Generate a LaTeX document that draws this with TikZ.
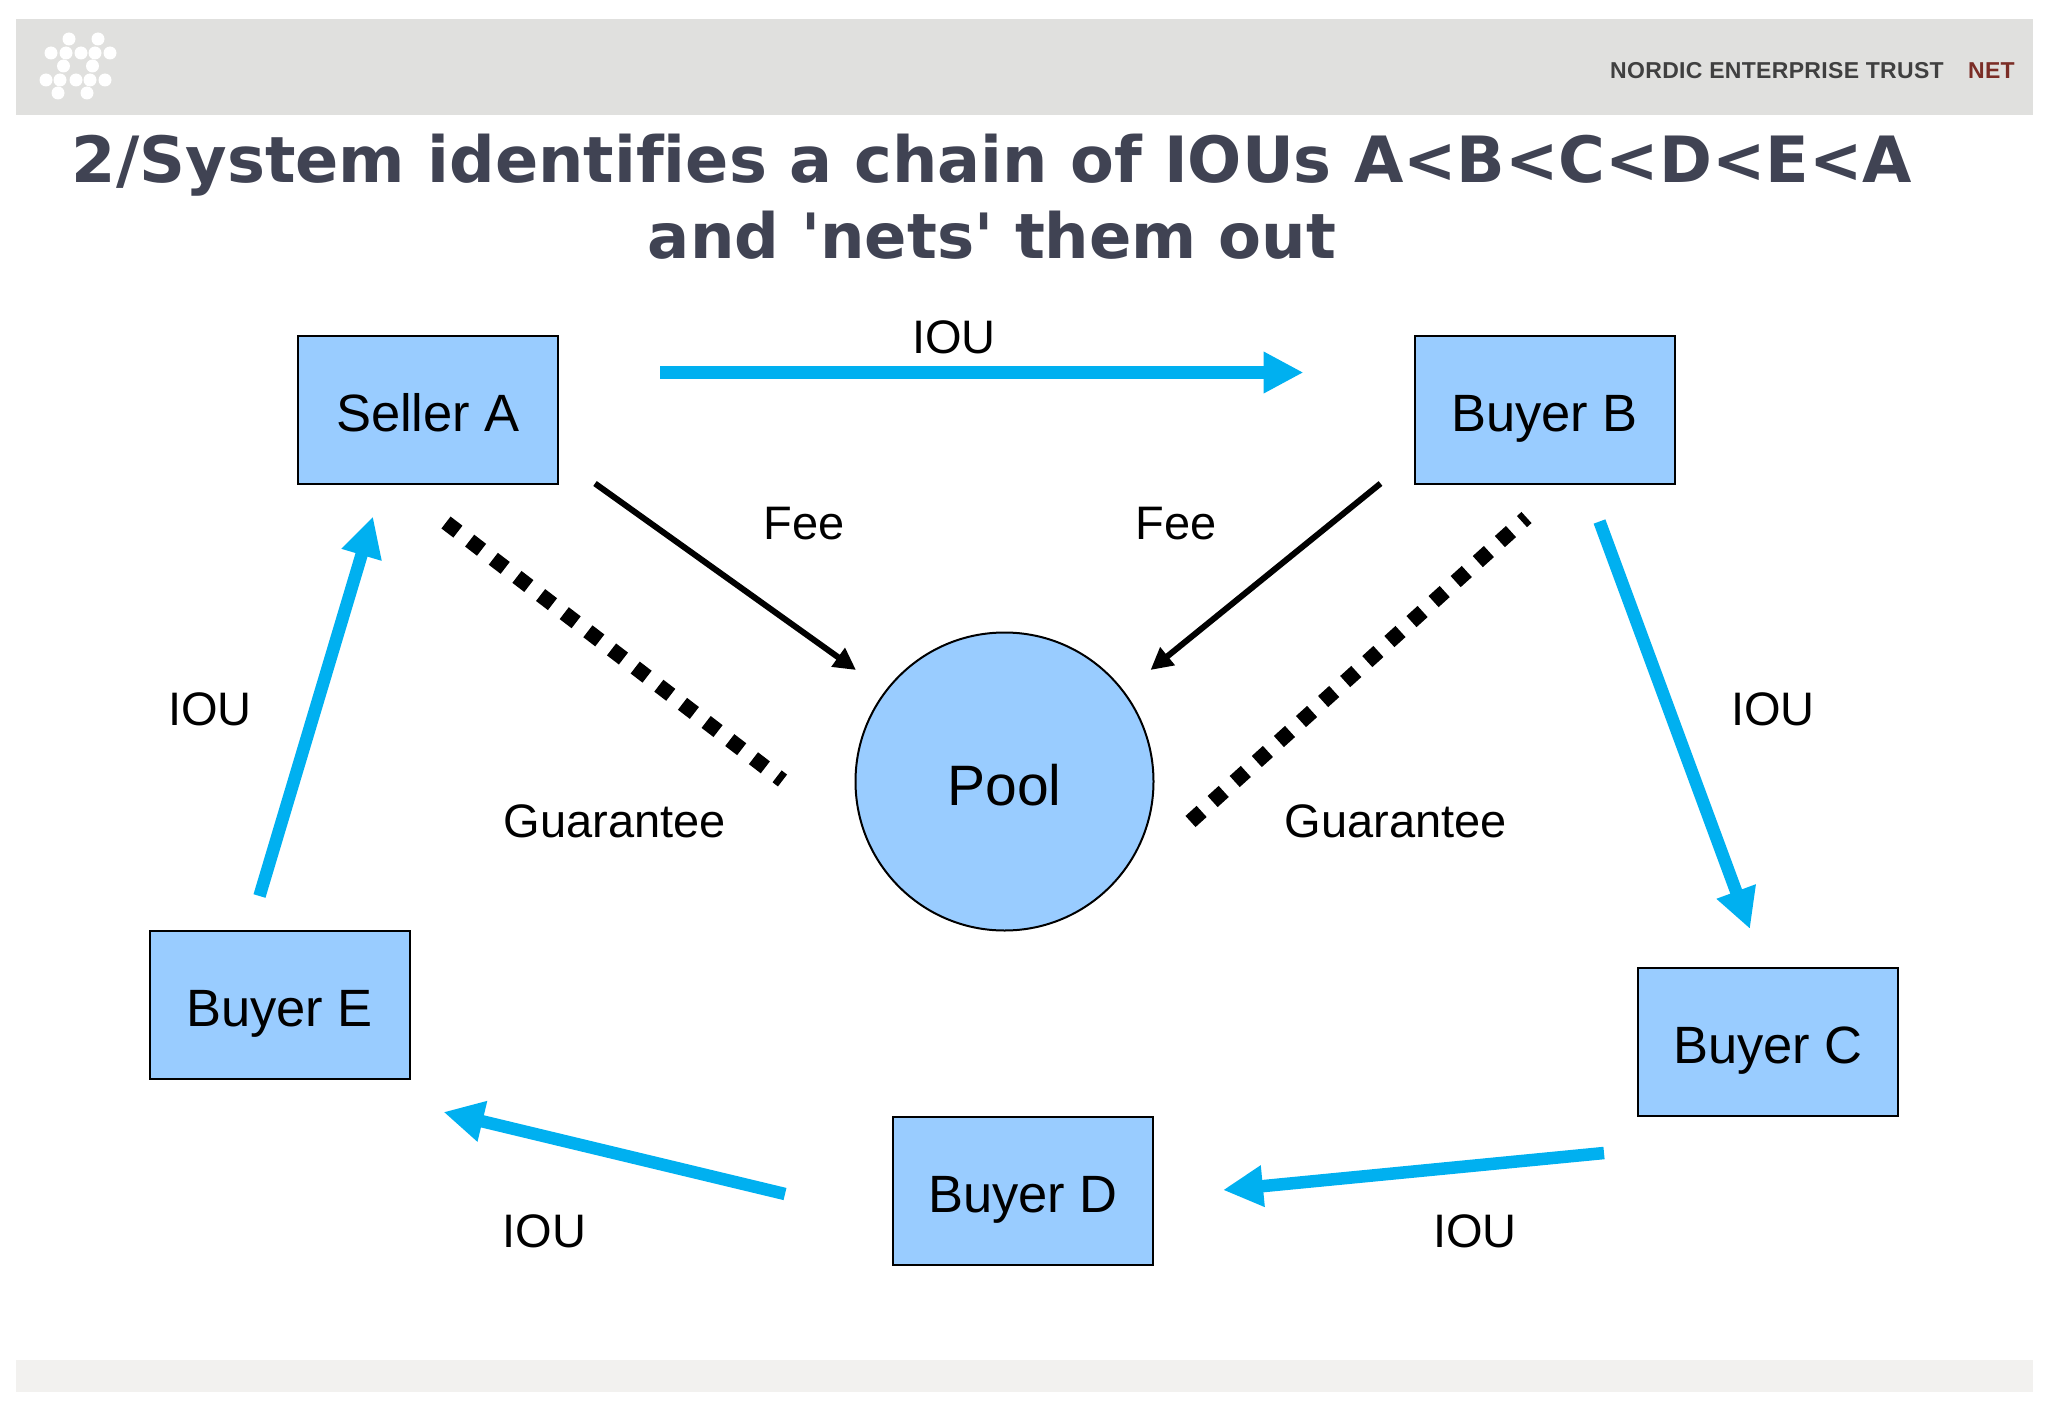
\documentclass[tikz,border=0pt]{standalone}
\usepackage{fontspec}
\setmainfont{Liberation Sans}
\newfontfamily\titlefont[Ligatures=CommonOff]{DejaVu Sans}
\newfontfamily\bandfont[LetterSpace=1.4]{Liberation Sans}
\usetikzlibrary{calc,arrows.meta}
\definecolor{boxblue}{HTML}{99CCFF}
\definecolor{arrowblue}{HTML}{00B0F0}
\definecolor{bandgrey}{HTML}{E0E0DE}
\definecolor{footgrey}{HTML}{F2F1EF}
\definecolor{titlegrey}{HTML}{404353}
\definecolor{netred}{HTML}{7B2D26}
\tikzset{
  partybox/.style={draw=black, line width=2pt, fill=boxblue, minimum width=260pt, minimum height=148pt, inner sep=0pt, text height=43pt, text depth=0pt, font=\fontsize{52.5}{60}\selectfont},
  poolcircle/.style={draw=black, line width=2pt, fill=boxblue, circle, minimum size=298pt, inner sep=0pt, text height=47pt, text depth=0pt, font=\fontsize{57}{66}\selectfont},
  linktext/.style={font=\fontsize{47}{54}\selectfont, inner sep=0pt},
  iouarrow/.style={draw=arrowblue, line width=12.5pt, -{Triangle[length=40pt,width=39pt]}},
  feearrow/.style={draw=black, line width=6pt, -{Triangle[length=22pt,width=22pt]}},
  guaranteeline/.style={draw=black, line width=15pt, dash pattern=on 15pt off 14.8pt}
}
\begin{document}
\begin{tikzpicture}[x=1pt, y=-1pt]
  \useasboundingbox (0,0) rectangle (2048,1418);
  \fill[white] (0,0) rectangle (2048,1418);

  % Header and footer bands
  \fill[bandgrey] (16,19) rectangle (2033,115);
  \fill[footgrey] (16,1360) rectangle (2033,1392);
  \foreach \x/\y in {69/39, 98/39, 51/53, 66/53, 81/53, 95/53, 110/53, 63.5/66, 92.5/66,
                     46/80, 60/80, 76/80, 90/80, 105/80, 58/93, 87/93}
    \fill[white] (\x,\y) circle (6.5pt);
  \node (bandname) [anchor=base east, inner sep=0pt, text=black!75, font=\bandfont\bfseries\fontsize{23}{28}\selectfont] at (1944,79) {NORDIC ENTERPRISE TRUST};
  \node (bandnet) [anchor=base east, inner sep=0pt, text=netred, font=\bandfont\bfseries\fontsize{23}{28}\selectfont] at (2015,79) {NET};

  % Title
  \node (title) [anchor=center, inner sep=0pt, align=center, text=titlegrey, font=\titlefont\bfseries\fontsize{63.8}{76}\selectfont] at (992,196.5) {2/System identifies a chain of IOUs A<B<C<D<E<A\\{\fontsize{62.5}{76}\selectfont and 'nets' them out}};

  % Parties and pool
  \node (sellerA) [partybox] at (428,409.5) {Seller A};
  \node (buyerB) [partybox] at (1544.5,409.5) {Buyer B};
  \node (buyerC) [partybox] at (1768,1042) {Buyer C};
  \node (buyerD) [partybox] at (1023,1191) {Buyer D};
  \node (buyerE) [partybox] at (279.5,1005) {Buyer E};
  \node (pool) [poolcircle] at (1004.5,781.5) {Pool};

  % IOU chain
  \draw[iouarrow] ($(sellerA.east)+(101,-37)$) -- ($(buyerB.west)+(-110,-37)$);
  \draw[iouarrow] ($(buyerB.south)+(55,37)$) -- ($(buyerC.north)+(-18,-38)$);
  \draw[iouarrow] ($(buyerC.south west)+(-33,36)$) -- ($(buyerD.east)+(69,-1)$);
  \draw[iouarrow] ($(buyerD.west)+(-107,3)$) -- ($(buyerE.south east)+(33,32)$);
  \draw[iouarrow] ($(buyerE.north)+(-20,-34)$) -- ($(sellerA.south)+(-55,32)$);

  % Fees
  \draw[feearrow] ($(sellerA.south east)+(36,-1)$) -- ($(pool.center)+(-148.5,-111.5)$);
  \draw[feearrow] ($(buyerB.south west)+(-33,-1)$) -- ($(pool.center)+(146,-111.5)$);

  % Guarantees
  \draw[guaranteeline] ($(sellerA.south)+(18,38)$) -- ($(pool.center)+(-222,-1)$);
  \draw[guaranteeline] ($(pool.center)+(186,40)$) -- ($(buyerB.south)+(-18,33)$);

  % Labels
  \node (iouAB) [linktext] at (954,337) {IOU};
  \node (iouBC) [linktext] at (1773,709) {IOU};
  \node (iouCD) [linktext] at (1475,1231) {IOU};
  \node (iouDE) [linktext] at (544.5,1231) {IOU};
  \node (iouEA) [linktext] at (210,709) {IOU};
  \node (feeA) [linktext] at (804,524) {Fee};
  \node (feeB) [linktext] at (1176,524) {Fee};
  \node (guarA) [linktext] at (615,821) {Guarantee};
  \node (guarB) [linktext] at (1396,821) {Guarantee};
\end{tikzpicture}
\end{document}
